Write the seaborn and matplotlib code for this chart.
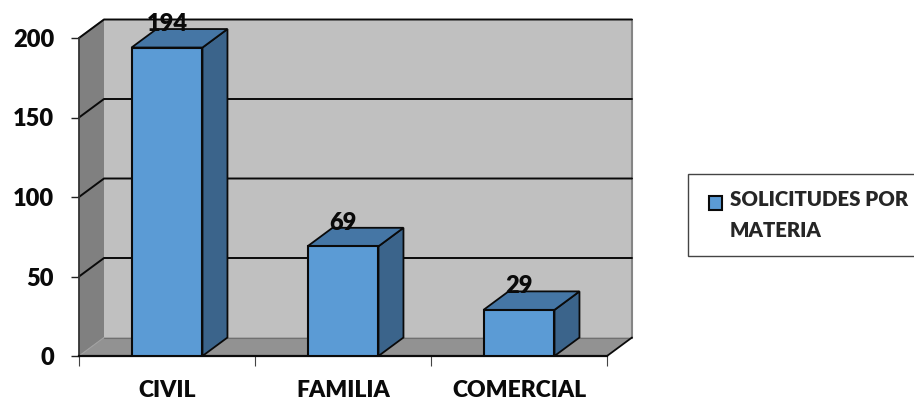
import seaborn as sns
import matplotlib.pyplot as plt
import pandas as pd
from matplotlib.patches import Patch, Polygon

materias = ['CIVIL', 'FAMILIA', 'COMERCIAL']
solicitudes = [194, 69, 29]
y_ticks = [0, 50, 100, 150, 200]
legend_label = 'SOLICITUDES POR\nMATERIA'

W, H = 914, 403
sns.set_style('white')
plt.rcParams['font.family'] = ['Lato', 'DejaVu Sans']
plt.rcParams['font.weight'] = 'heavy'

df = pd.DataFrame({'materia': materias, 'solicitudes': solicitudes})

fig = plt.figure(figsize=(W / 100, H / 100), dpi=100)
ax = fig.add_axes([79 / W, 1 - 356 / H, 528 / W, 318 / H])

sns.barplot(data=df, x='materia', y='solicitudes', color='#5b9bd5', saturation=1,
            width=0.403, edgecolor='#0a0a0a', linewidth=1.5, zorder=5, ax=ax)
ax.set_xlim(-0.5, 2.5)
ax.set_ylim(0, 200)

# depth of the fake 3D box, in data units (25px / 18.5px)
dx = 25 / 176
dy = 18.5 / 1.59
x0, x1 = -0.5, 2.5
y_top = 200


def face(points, color, edge='none', lw=0, z=1):
    ax.add_patch(Polygon(points, closed=True, facecolor=color, edgecolor=edge,
                         linewidth=lw, zorder=z, clip_on=False))


# walls and floor
face([(x0 + dx, dy), (x1 + dx, dy), (x1 + dx, y_top + dy), (x0 + dx, y_top + dy)], '#c0c0c0')
face([(x0, 0), (x1, 0), (x1 + dx, dy), (x0 + dx, dy)], '#929292')
face([(x0, 0), (x0 + dx, dy), (x0 + dx, y_top + dy), (x0, y_top)], '#808080')
ax.plot([x0 + dx, x1 + dx], [dy, dy], color='#707070', lw=0.8, zorder=2, clip_on=False)
ax.plot([x1 + dx, x1 + dx], [dy, y_top + dy], color='#858585', lw=1.5, zorder=2, clip_on=False)
ax.plot([x0, x0 + dx], [y_top, y_top + dy], color='#707070', lw=1, zorder=2, clip_on=False)
ax.plot([x0, x0 + dx], [0, dy], color='#a0a0a0', lw=0.8, zorder=2, clip_on=False)
ax.plot([x1, x1 + dx], [0, dy], color='#0a0a0a', lw=1.3, zorder=2, clip_on=False)

# gridlines run across the side wall and the back wall
for t in y_ticks[1:]:
    ax.plot([x0, x0 + dx, x1 + dx], [t, t + dy, t + dy], color='#0a0a0a',
            lw=1.4, zorder=2, clip_on=False)

# side and top of each bar
for bar in ax.patches[:len(materias)]:
    left = bar.get_x()
    right = left + bar.get_width()
    top = bar.get_height()
    face([(right, 0), (right + dx, dy), (right + dx, top + dy), (right, top)],
         '#3b648b', '#0a0a0a', 1.3, 4)
    face([(left, top), (right, top), (right + dx, top + dy), (left + dx, top + dy)],
         '#4576a5', '#0a0a0a', 1.3, 4)

ax.bar_label(ax.containers[0], labels=[str(v) for v in solicitudes], padding=9,
             fontsize=17, fontweight='heavy', color='#0a0a0a', zorder=6)

# axes lines and ticks
sns.despine(ax=ax, top=True, right=True)
ax.spines['left'].set_color('#333333')
ax.spines['left'].set_linewidth(1.3)
ax.spines['left'].set_zorder(3)
ax.spines['bottom'].set_color('#0a0a0a')
ax.spines['bottom'].set_linewidth(1.6)
ax.spines['bottom'].set_zorder(3)

ax.set_xlabel('')
ax.set_ylabel('')
ax.set_yticks(y_ticks)
ax.tick_params(axis='y', left=True, length=6, width=1, color='#222222', pad=12,
               labelsize=17, labelcolor='#0a0a0a')
ax.set_xticks([-0.5, 0.5, 1.5, 2.5], minor=True)
ax.tick_params(axis='x', which='minor', bottom=True, length=7.5, width=0.8, color='#444444')
ax.tick_params(axis='x', which='major', bottom=False, pad=14, labelsize=16.5,
               labelcolor='#0a0a0a')

# legend box runs off the right side of the picture
handle = Patch(facecolor='#5b9bd5', edgecolor='#0a0a0a', linewidth=1.5)
leg = fig.legend(handles=[handle], labels=[legend_label], loc='upper left',
                 bbox_to_anchor=(688 / W, 1 - 174 / H), fontsize=14.7,
                 frameon=True, fancybox=False, edgecolor='#444444', framealpha=1,
                 handlelength=1.0, handleheight=0.8, handletextpad=0.24,
                 borderpad=0.8, borderaxespad=0, labelspacing=0)
leg.get_frame().set_linewidth(1)
leg.get_texts()[0].set_linespacing(1.7)
# marker sits next to the first line of text
swatch = leg.legend_handles[0]
swatch.set_width(10)
swatch.set_height(10)
swatch.set_x(swatch.get_x() + 3)
swatch.set_y(swatch.get_y() + 10)

fig.savefig('out.png', dpi=100)
